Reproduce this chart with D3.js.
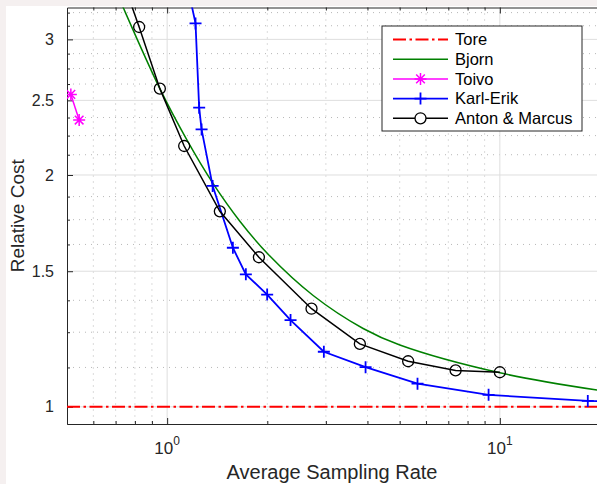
<!DOCTYPE html>
<html>
<head>
<meta charset="utf-8">
<script src="https://cdn.jsdelivr.net/npm/d3@7"></script>
<style>
  body { margin: 0; background: #f5f0f0; }
  svg { display: block; font-family: "Liberation Sans", Arial, sans-serif; }
</style>
</head>
<body>
<div id="my_chart"></div>
<script>
// data (x = average sampling rate, y = relative cost)
var toreX = [0.5, 20];
var toreY = [1, 1];

var bjornX = [0.7, 0.7376, 0.9507, 1.144, 1.375, 1.654, 2.012, 2.747, 3.882, 5.005, 10, 20];
var bjornY = [3.48, 3.30, 2.589, 2.225, 1.949, 1.742, 1.578, 1.395, 1.264, 1.203, 1.107, 1.050];

var toivoX = [0.5135, 0.5439];
var toivoY = [2.545, 2.357];

var karlX = [1.08, 1.217, 1.248, 1.269, 1.370, 1.576, 1.724, 1.998, 2.349, 2.958, 3.948, 5.656, 9.25, 18.38, 30];
var karlY = [4.0, 3.147, 2.446, 2.292, 1.936, 1.609, 1.486, 1.399, 1.296, 1.179, 1.126, 1.0716, 1.0365, 1.018, 1.012];

var antonX = [0.7, 0.8238, 0.9507, 1.125, 1.440, 1.887, 2.716, 3.795, 5.301, 7.362, 10];
var antonY = [3.8, 3.113, 2.589, 2.181, 1.794, 1.564, 1.341, 1.207, 1.146, 1.115, 1.109];

var legendNames = ["Tore", "Bjorn", "Toivo", "Karl-Erik", "Anton & Marcus"];

var xMajor = [1, 10];
var xMinor = [0.6, 0.7, 0.8, 0.9, 2, 3, 4, 5, 6, 7, 8, 9, 20];
var yMajor = [1, 1.5, 2, 2.5, 3];
var yMinor = [1.125, 1.25, 1.375, 1.625, 1.75, 1.875, 2.125, 2.25, 2.375, 2.625, 2.75, 2.875, 3.125, 3.25];

function zip(xs, ys) { return xs.map(function (v, i) { return [v, ys[i]]; }); }

// set the dimensions and margins of the graph
var margin = { top: 7.5, right: -3, bottom: 60, left: 67 },
    width = 597 - margin.left - margin.right,
    height = 484 - margin.top - margin.bottom;

var root = d3.select("#my_chart")
    .append("svg")
    .attr("width", 597)
    .attr("height", 484);

// white figure area
root.append("rect")
    .attr("x", 6).attr("y", 6)
    .attr("width", 591).attr("height", 478)
    .attr("fill", "#ffffff");

var svg = root.append("g")
    .attr("transform", "translate(" + margin.left + "," + margin.top + ")");

var x = d3.scaleLog().domain([0.5, 20]).range([0, width]);
var y = d3.scaleLog().domain([0.95, 3.3]).range([height, 0]);

svg.append("clipPath").attr("id", "plotclip")
    .append("rect").attr("width", width).attr("height", height);

// grid
var grid = svg.append("g");
grid.selectAll(".xmin").data(xMinor).enter().append("line")
    .attr("x1", function (d) { return x(d); }).attr("x2", function (d) { return x(d); })
    .attr("y1", 0).attr("y2", height)
    .attr("stroke", "#b8b8b8").attr("stroke-dasharray", "1,5");
grid.selectAll(".ymin").data(yMinor).enter().append("line")
    .attr("y1", function (d) { return y(d); }).attr("y2", function (d) { return y(d); })
    .attr("x1", 0).attr("x2", width)
    .attr("stroke", "#b8b8b8").attr("stroke-dasharray", "1,5");
grid.selectAll(".xmaj").data(xMajor).enter().append("line")
    .attr("x1", function (d) { return x(d); }).attr("x2", function (d) { return x(d); })
    .attr("y1", 0).attr("y2", height)
    .attr("stroke", "#dedede");
grid.selectAll(".ymaj").data(yMajor).enter().append("line")
    .attr("y1", function (d) { return y(d); }).attr("y2", function (d) { return y(d); })
    .attr("x1", 0).attr("x2", width)
    .attr("stroke", "#dedede");

// axes (ticks point inward, box on)
var axisCol = "#262626";
svg.append("g")
    .attr("transform", "translate(0," + height + ")")
    .call(d3.axisBottom(x).tickValues(xMajor).tickSize(-6).tickFormat(""))
    .call(function (g) {
        g.select(".domain").attr("stroke", axisCol);
        g.selectAll(".tick line").attr("stroke", axisCol);
    });
svg.append("g")
    .attr("transform", "translate(0," + height + ")")
    .call(d3.axisBottom(x).tickValues(xMinor).tickSize(-3).tickSizeOuter(0).tickFormat(""))
    .call(function (g) {
        g.select(".domain").remove();
        g.selectAll(".tick line").attr("stroke", axisCol);
    });
svg.append("g")
    .call(d3.axisTop(x).tickValues(xMajor).tickSize(-6).tickFormat(""))
    .call(function (g) {
        g.select(".domain").attr("stroke", axisCol);
        g.selectAll(".tick line").attr("stroke", axisCol);
    });
svg.append("g")
    .call(d3.axisTop(x).tickValues(xMinor).tickSize(-3).tickSizeOuter(0).tickFormat(""))
    .call(function (g) {
        g.select(".domain").remove();
        g.selectAll(".tick line").attr("stroke", axisCol);
    });
svg.append("g")
    .call(d3.axisLeft(y).tickValues(yMajor).tickSize(-6).tickSizeOuter(0).tickPadding(13)
        .tickFormat(function (d) { return d3.format("~g")(d); }))
    .call(function (g) {
        g.select(".domain").attr("stroke", axisCol);
        g.selectAll(".tick line").attr("stroke", axisCol);
        g.selectAll(".tick text").attr("fill", axisCol)
            .style("font-size", "16px").style("font-family", "Liberation Sans, Arial, sans-serif");
    });
svg.append("g")
    .call(d3.axisLeft(y).tickValues(yMinor).tickSize(-3).tickSizeOuter(0).tickFormat(""))
    .call(function (g) {
        g.select(".domain").remove();
        g.selectAll(".tick line").attr("stroke", axisCol);
    });

// x tick labels as powers of ten
var xl = svg.append("g").selectAll("text").data(xMajor).enter().append("text")
    .attr("x", function (d) { return x(d); })
    .attr("y", height + 30)
    .attr("text-anchor", "middle")
    .attr("fill", axisCol);
xl.append("tspan").style("font-size", "17px").text("10");
xl.append("tspan").attr("dy", -9).style("font-size", "12px")
    .text(function (d) { return Math.round(Math.log10(d)); });

// axis labels
svg.append("text")
    .attr("x", width / 2 - 1.5).attr("y", height + 55)
    .attr("text-anchor", "middle").attr("fill", axisCol)
    .style("font-size", "20px")
    .text("Average Sampling Rate");
svg.append("text")
    .attr("transform", "translate(" + (24 - margin.left) + "," + (height / 2) + ") rotate(-90)")
    .attr("text-anchor", "middle").attr("fill", axisCol)
    .style("font-size", "19px")
    .text("Relative Cost");

// series
var line = d3.line().x(function (d) { return x(d[0]); }).y(function (d) { return y(d[1]); });
var smooth = d3.line().curve(d3.curveCatmullRom.alpha(0.5))
    .x(function (d) { return x(d[0]); }).y(function (d) { return y(d[1]); });

var plot = svg.append("g").attr("clip-path", "url(#plotclip)");

plot.append("path").datum(zip(toreX, toreY)).attr("d", line)
    .attr("fill", "none").attr("stroke", "#ff0000").attr("stroke-width", 2)
    .attr("stroke-dasharray", "13,3.5,2.5,3.5");
plot.append("path").datum(zip(bjornX, bjornY)).attr("d", smooth)
    .attr("fill", "none").attr("stroke", "#008000").attr("stroke-width", 1.5);
plot.append("path").datum(zip(toivoX, toivoY)).attr("d", line)
    .attr("fill", "none").attr("stroke", "#ff00ff").attr("stroke-width", 1.5);
plot.append("path").datum(zip(karlX, karlY)).attr("d", line)
    .attr("fill", "none").attr("stroke", "#0000ff").attr("stroke-width", 1.8);
plot.append("path").datum(zip(antonX, antonY)).attr("d", line)
    .attr("fill", "none").attr("stroke", "#000000").attr("stroke-width", 1.5);

// markers
function plusPath(s) { return "M" + (-s) + ",0H" + s + "M0," + (-s) + "V" + s; }
function starPath(s) {
    var k = s * 0.72;
    return plusPath(s) + "M" + (-k) + "," + (-k) + "L" + k + "," + k + "M" + (-k) + "," + k + "L" + k + "," + (-k);
}
plot.selectAll(".toivo").data(zip(toivoX, toivoY)).enter().append("path")
    .attr("transform", function (d) { return "translate(" + x(d[0]) + "," + y(d[1]) + ")"; })
    .attr("d", starPath(6)).attr("fill", "none").attr("stroke", "#ff00ff").attr("stroke-width", 1.5);
plot.selectAll(".karl").data(zip(karlX, karlY)).enter().append("path")
    .attr("transform", function (d) { return "translate(" + x(d[0]) + "," + y(d[1]) + ")"; })
    .attr("d", plusPath(6)).attr("fill", "none").attr("stroke", "#0000ff").attr("stroke-width", 1.8);
plot.selectAll(".anton").data(zip(antonX, antonY)).enter().append("circle")
    .attr("cx", function (d) { return x(d[0]); })
    .attr("cy", function (d) { return y(d[1]); })
    .attr("r", 5.5).attr("fill", "none").attr("stroke", "#000000").attr("stroke-width", 1.3);

// legend
var lg = root.append("g").attr("transform", "translate(382,26)");
lg.append("rect").attr("width", 200).attr("height", 105)
    .attr("fill", "#ffffff").attr("stroke", axisCol);
var styles = [
    { c: "#ff0000", w: 2, dash: "13,3.5,2.5,3.5", m: null },
    { c: "#008000", w: 1.5, dash: null, m: null },
    { c: "#ff00ff", w: 1.5, dash: null, m: "star" },
    { c: "#0000ff", w: 1.8, dash: null, m: "plus" },
    { c: "#000000", w: 1.5, dash: null, m: "circle" }
];
legendNames.forEach(function (name, i) {
    var st = styles[i];
    var ry = 13.5 + i * 19.7;
    lg.append("line").attr("x1", 11).attr("x2", 66).attr("y1", ry).attr("y2", ry)
        .attr("stroke", st.c).attr("stroke-width", st.w)
        .attr("stroke-dasharray", st.dash);
    if (st.m === "star") {
        lg.append("path").attr("transform", "translate(38.5," + ry + ")")
            .attr("d", starPath(6)).attr("fill", "none").attr("stroke", st.c).attr("stroke-width", 1.5);
    } else if (st.m === "plus") {
        lg.append("path").attr("transform", "translate(38.5," + ry + ")")
            .attr("d", plusPath(6)).attr("fill", "none").attr("stroke", st.c).attr("stroke-width", 1.8);
    } else if (st.m === "circle") {
        lg.append("circle").attr("cx", 38.5).attr("cy", ry).attr("r", 5.5)
            .attr("fill", "#ffffff").attr("stroke", st.c).attr("stroke-width", 1.3);
    }
    lg.append("text").attr("x", 73).attr("y", ry).attr("dy", "0.35em")
        .attr("fill", "#000000").style("font-size", "16.5px").text(name);
});
</script>
</body>
</html>
